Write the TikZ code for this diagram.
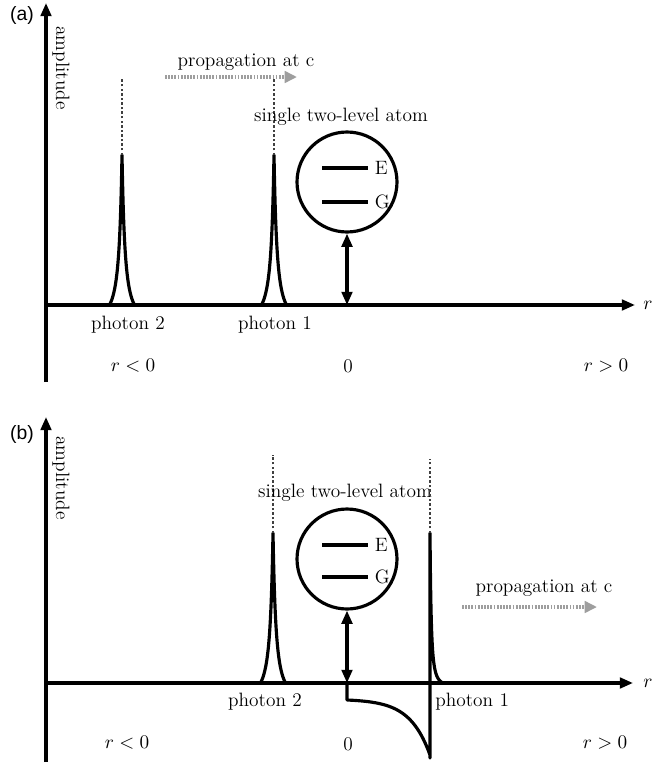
\documentclass[tikz,border=0pt]{standalone}
\usepackage{fontspec}
\newfontfamily\panelfont{Liberation Sans}
\usepackage{tikz}
\usetikzlibrary{arrows.meta,shapes,positioning}

\begin{document}
\begin{tikzpicture}[x=0.02cm, y=-0.02cm, inner sep=0pt, font=\fontsize{11}{13}\selectfont]
    \tikzstyle{axis}=[-{Triangle[length=7.5pt,width=6pt]}, line width=1.8pt]
    \tikzstyle{curve}=[line width=1.8pt, line join=round]
    \tikzstyle{atom}=[circle, draw, line width=1.8pt, minimum size=2cm]
    \tikzstyle{level}=[line width=1.8pt]
    \tikzstyle{trail}=[dash pattern=on 1.4pt off 1.2pt, draw=black!75, line width=1.7pt]
    \tikzstyle{prop}=[-{Triangle[length=7pt,width=6.5pt]}, dash pattern=on 1pt off 0.8pt, draw=black!38, line width=2.6pt]
    \tikzstyle{gap}=[{Triangle[length=7.5pt,width=6pt]}-{Triangle[length=7.5pt,width=6pt]}, line width=1.8pt]
    \tikzstyle{panel}=[font=\panelfont\fontsize{11}{13}\selectfont]

    \useasboundingbox (0,0) rectangle (672,764);

    % (a): both photons still on the left
    \coordinate (yA0) at (46,382);
    \coordinate (yA1) at (46,3);
    \coordinate (oA) at (46,305);
    \coordinate (xA1) at (635,305);
    \draw[axis] (yA0) -- (yA1);
    \draw[axis] (oA) -- (xA1);
    \node[panel] (labA) at (22,15) {(a)};
    \node[rotate=-90] (ampA) at (61,68) {amplitude};
    \node (rA) at (648,305) {$r$};

    \foreach \p/\n in {122/2,274/1} {
        \draw[curve] plot[domain=-12.5:12.5, samples=101]
            ({\p+\x},{305-150*(1/((1+abs(\x)/6)^2)-0.105)/0.895});
        \coordinate (topA\n) at (\p,155);
        \coordinate (endA\n) at (\p,79);
        \draw[trail] (topA\n) -- (endA\n);
    }
    \coordinate (propA0) at (165,77);
    \coordinate (propA1) at (297,77);
    \draw[prop] (propA0) -- (propA1);
    \node (propAtxt) at (246,62) {propagation at c};

    \node (atomAtxt) at (341,117) {single two-level atom};
    \node[atom] (atomA) at (347,182) {};
    \draw[level] (322,168) -- (368,168) node[right=3pt] (EA) {E};
    \draw[level] (322,202) -- (368,202) node[right=3pt] (GA) {G};
    \coordinate (zA) at (347,305);
    \draw[gap] (atomA.south) -- (zA);

    \node (ph2A) at (128,325) {photon 2};
    \node (ph1A) at (275,325) {photon 1};
    \node (negA) at (133,366) {$r<0$};
    \node (zeroA) at (348,366) {0};
    \node (posA) at (606,366) {$r>0$};

    % (b): photon 1 has passed the atom
    \coordinate (yB0) at (46,762);
    \coordinate (yB1) at (46,417);
    \coordinate (oB) at (46,683);
    \coordinate (xB1) at (633,683);
    \draw[axis] (yB0) -- (yB1);
    \draw[axis] (oB) -- (xB1);
    \node[panel] (labB) at (22,434) {(b)};
    \node[rotate=-90] (ampB) at (61,478) {amplitude};
    \node (rB) at (648,683) {$r$};

    \draw[curve] plot[domain=-12.5:12.5, samples=101]
        ({273+\x},{683-150*(1/((1+abs(\x)/6)^2)-0.105)/0.895});
    \coordinate (topB2) at (273,533);
    \coordinate (endB2) at (273,455);
    \draw[trail] (topB2) -- (endB2);

    \node (atomBtxt) at (345,493) {single two-level atom};
    \node[atom] (atomB) at (347,559) {};
    \draw[level] (322,545) -- (368,545) node[right=3pt] (EB) {E};
    \draw[level] (322,577) -- (368,577) node[right=3pt] (GB) {G};
    \coordinate (zB) at (347,683);
    \draw[gap] (atomB.south) -- (zB);

    \coordinate (topB1) at (430,533);
    \coordinate (endB1) at (430,459);
    \draw[curve] (zB) -- (347,700)
        -- plot[domain=0:83, samples=60] ({347+\x},{700+55*(exp(\x/20)-1)/62.4})
        -- (430,758) -- (topB1)
        -- plot[domain=0:13, samples=53] ({430+\x},{683-150*(1/((1+\x/2.5)^2)-0.026)/0.974});
    \draw[trail] (topB1) -- (endB1);

    \coordinate (propB0) at (462,607);
    \coordinate (propB1) at (597,607);
    \draw[prop] (propB0) -- (propB1);
    \node (propBtxt) at (544,588) {propagation at c};

    \node (ph2B) at (265,702) {photon 2};
    \node[anchor=west] (ph1B) at (435,702) {photon 1};
    \node (negB) at (127,743) {$r<0$};
    \node (zeroB) at (348,744) {0};
    \node (posB) at (605,743) {$r>0$};
\end{tikzpicture}
\end{document}
